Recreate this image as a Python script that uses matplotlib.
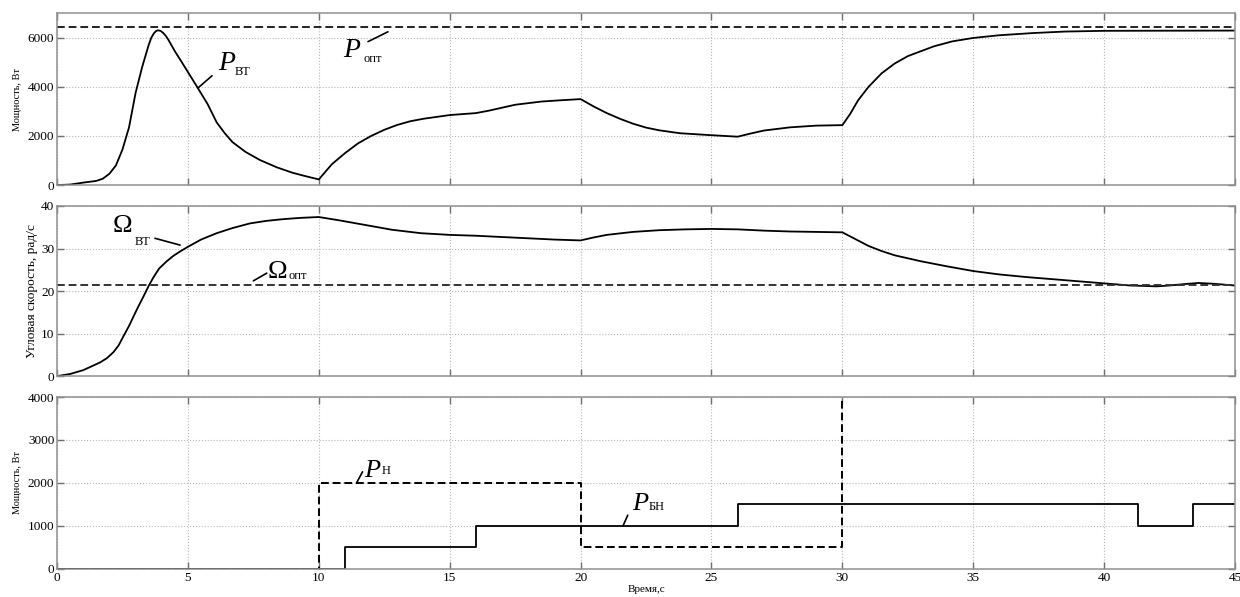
import numpy as np
import matplotlib
matplotlib.use('Agg')
import matplotlib.pyplot as plt

plt.rcParams['font.family'] = ['Liberation Serif', 'DejaVu Serif']

# Мощность ветротурбины, Вт
t_p = [0, 0.5, 1, 1.5, 1.75, 2, 2.25, 2.5, 2.75, 3, 3.25, 3.5, 3.6, 3.7, 3.78, 3.85, 3.95, 4.05,
       4.15, 4.25, 4.5, 4.75, 5, 5.35, 5.75, 6.1, 6.4, 6.7, 7.2, 7.75, 8.4, 9, 9.5, 10, 10.5, 11,
       11.5, 12, 12.5, 13, 13.5, 14, 15, 16, 16.5, 17, 17.5, 18.5, 19.2, 20, 20.5, 21, 21.5, 22,
       22.5, 23, 23.8, 25, 26, 26.5, 27, 28, 29, 30, 30.3, 30.6, 31, 31.5, 32, 32.5, 33.5, 34.2,
       35, 36, 37.3, 38.5, 40, 45]
p_vt = [0, 20, 100, 170, 260, 460, 800, 1450, 2350, 3750, 4800, 5700, 6000, 6180, 6270, 6300,
        6280, 6200, 6080, 5920, 5450, 5030, 4600, 4000, 3300, 2550, 2120, 1750, 1350, 1020, 720,
        500, 360, 230, 850, 1300, 1700, 2000, 2250, 2450, 2600, 2700, 2850, 2930, 3030, 3150,
        3270, 3400, 3450, 3500, 3200, 2930, 2700, 2500, 2340, 2230, 2110, 2030, 1970, 2100, 2220,
        2350, 2420, 2440, 2900, 3450, 4000, 4550, 4950, 5250, 5650, 5850, 5990, 6100, 6190, 6250,
        6280, 6290]
p_opt = 6420

# Угловая скорость, рад/с
t_w = [0, 0.5, 1, 1.64, 1.9, 2.15, 2.35, 2.53, 2.75, 2.92, 3.1, 3.3, 3.5, 3.68, 3.9, 4.19, 4.45,
       4.7, 5, 5.5, 6.1, 6.7, 7.37, 8, 8.64, 9.3, 10, 10.8, 11.8, 12.8, 13.9, 15, 16, 17, 18, 19,
       20, 20.5, 21, 22, 23, 24, 25, 26, 27, 28, 29, 30, 30.5, 31, 31.5, 32, 33, 34, 35, 36, 37,
       38, 39, 40, 41, 42, 42.5, 43, 43.6, 44.2, 45]
w_vt = [0, 0.5, 1.4, 3.2, 4.2, 5.6, 7.2, 9.3, 11.8, 14, 16.3, 18.7, 21.2, 23.2, 25.3, 27.0,
        28.3, 29.3, 30.4, 32.1, 33.6, 34.8, 35.9, 36.5, 36.9, 37.2, 37.4, 36.6, 35.5, 34.4, 33.6,
        33.2, 33.0, 32.7, 32.4, 32.1, 31.9, 32.6, 33.2, 33.9, 34.3, 34.5, 34.6, 34.5, 34.2, 34.0,
        33.9, 33.8, 32.2, 30.6, 29.4, 28.4, 27.0, 25.8, 24.7, 23.9, 23.3, 22.8, 22.3, 21.8, 21.3,
        21.1, 21.3, 21.6, 21.9, 21.7, 21.3]
w_opt = 21.5

# Мощность нагрузки и балластной нагрузки, Вт
t_n = [0, 10, 20, 30, 45]
p_n = [0, 2000, 500, 6000, 6000]
t_bn = [0, 11, 16, 26, 41.3, 43.4, 45]
p_bn = [0, 500, 1000, 1500, 1000, 1500, 1500]

fig = plt.figure(figsize=(12.4, 5.97), dpi=100)
ax1 = fig.add_axes([0.046, 0.690, 0.950, 0.288])
ax2 = fig.add_axes([0.046, 0.370, 0.950, 0.285])
ax3 = fig.add_axes([0.046, 0.047, 0.950, 0.288])

dash = (0, (4, 2))
for ax in (ax1, ax2, ax3):
    ax.set_xlim(0, 45)
    ax.set_xticks(np.arange(0, 46, 5))
    ax.grid(True, ls=':', color='#b8b8b8', lw=0.8)
    ax.tick_params(direction='in', top=True, right=True, length=5, width=1,
                   color='#707070', labelsize=9.5, pad=2)
    for s in ax.spines.values():
        s.set_color('#909090')
        s.set_linewidth(1.1)

ax1.plot(t_p, p_vt, color='black', lw=1.3)
ax1.axhline(p_opt, color='#222222', lw=1.4, ls=dash)
ax1.set_ylim(0, 7000)
ax1.set_yticks([0, 2000, 4000, 6000])
ax1.tick_params(labelbottom=False)
ax1.set_ylabel('Мощность, Вт', fontsize=7.4, labelpad=4)

ax2.plot(t_w, w_vt, color='black', lw=1.3)
ax2.axhline(w_opt, color='#333333', lw=1.4, ls=dash)
ax2.set_ylim(0, 40)
ax2.set_yticks([0, 10, 20, 30, 40])
ax2.tick_params(labelbottom=False)
ax2.set_ylabel('Угловая скорость, рад/с', fontsize=9.6, labelpad=2)

ax3.step(t_n, p_n, where='post', color='black', lw=1.4, ls=dash)
ax3.step(t_bn, p_bn, where='post', color='black', lw=1.3)
ax3.set_ylim(0, 4000)
ax3.set_yticks([0, 1000, 2000, 3000, 4000])
ax3.set_ylabel('Мощность, Вт', fontsize=7.4, labelpad=4)
ax3.set_xlabel('Время,с', fontsize=8, labelpad=1)

lead = dict(arrowstyle='-', lw=1.2, color='black', shrinkA=0, shrinkB=0)

# подписи кривых
ax1.text(6.15, 4690, 'P', fontsize=20, style='italic')
ax1.text(6.8, 4480, 'ВТ', fontsize=9)
ax1.annotate('', xy=(5.39, 3960), xytext=(5.92, 4450), arrowprops=lead)

ax1.text(10.92, 5220, 'P', fontsize=20, style='italic')
ax1.text(11.7, 5020, 'опт', fontsize=9)
ax1.annotate('', xy=(11.88, 5840), xytext=(12.64, 6240), arrowprops=lead)

ax2.text(2.14, 33.9, 'Ω', fontsize=19)
ax2.text(2.95, 30.8, 'ВТ', fontsize=9)
ax2.annotate('', xy=(4.70, 30.8), xytext=(3.74, 32.4), arrowprops=lead)

ax2.text(8.06, 23.1, 'Ω', fontsize=19)
ax2.text(8.85, 22.8, 'опт', fontsize=9)
ax2.annotate('', xy=(7.5, 22.4), xytext=(8.01, 24.2), arrowprops=lead)

ax3.text(11.75, 2140, 'P', fontsize=19, style='italic')
ax3.text(12.4, 2200, 'Н', fontsize=9)
ax3.annotate('', xy=(11.44, 2000), xytext=(11.67, 2260), arrowprops=lead)

ax3.text(21.96, 1370, 'P', fontsize=19, style='italic')
ax3.text(22.6, 1370, 'БН', fontsize=9)
ax3.annotate('', xy=(21.62, 1000), xytext=(21.8, 1250), arrowprops=lead)

fig.savefig('out.png', dpi=100)
